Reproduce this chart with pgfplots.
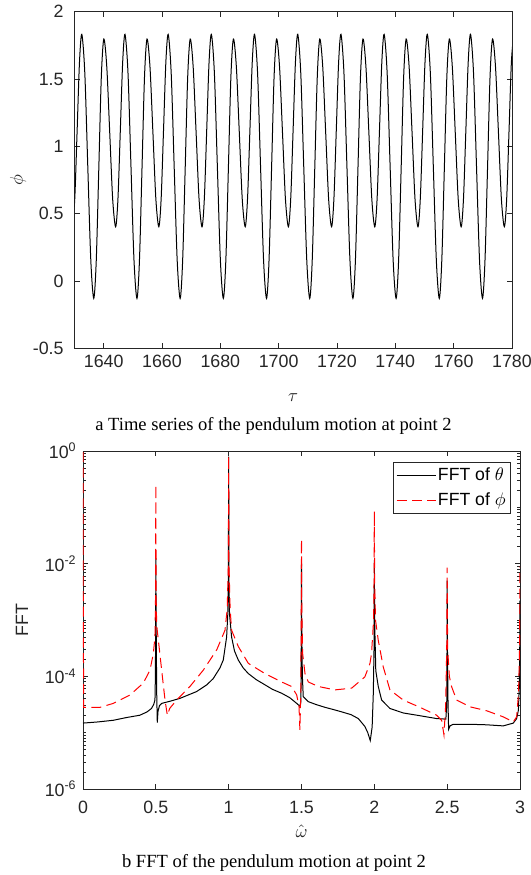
\documentclass[border=0pt]{standalone}
\usepackage{pgfplots}
\pgfplotsset{compat=1.18}
\usepackage{fontspec}
\setmainfont{Liberation Sans}
\newfontfamily\timesfont{Liberation Serif}
\pgfplotsset{
  matlab/.style={
    scale only axis,
    axis line style={black!85, line width=0.5pt},
    every tick/.style={black!85, line width=0.5pt},
    tick align=inside,
    major tick length=2.75pt, minor tick length=1.5pt,
    xtick pos=both, ytick pos=both,
    xticklabel pos=lower, yticklabel pos=left,
    ticklabel style={font=\fontsize{9.8}{11}\selectfont, text=black!85},
    label style={font=\fontsize{9.8}{11}\selectfont, text=black!85},
    /pgf/number format/assume math mode=true,
  }
}
\begin{document}
\begin{tikzpicture}
\path[use as bounding box] (0pt,0pt) rectangle (291.5pt,-481.25pt);
% ---------------- top: time series ----------------
\begin{axis}[matlab,
  at={(40.98pt,-191.57pt)}, anchor=south west,
  width=240.6pt, height=185.13pt,
  xmin=1630, xmax=1780, ymin=-0.5, ymax=2,
  xtick={1640,1660,1680,1700,1720,1740,1760,1780},
  xticklabels={1640,1660,1680,1700,1720,1740,1760,1780},
  ytick={-0.5,0,0.5,1,1.5,2},
  yticklabels={-0.5,0,0.5,1,1.5,2},
  yticklabel style={xshift=-2.5pt},
  xlabel={$\tau$}, ylabel={$\phi$},
  xlabel style={at={(axis description cs:0.5,-0.147)}, anchor=center},
  ylabel style={at={(axis description cs:-0.129,0.5)}, anchor=center},
]
\addplot[black, line width=0.55pt, smooth] table[row sep=\\] {
t phi\\
1629.29 0.403\\ 1630.09 0.612\\ 1630.90 1.118\\ 1631.70 1.623\\
1632.50 1.832\\ 1633.53 1.545\\ 1634.55 0.852\\ 1635.58 0.158\\ 1636.60 -0.129\\ 1637.46 0.153\\ 1638.33 0.834\\ 1639.19 1.515\\
1640.05 1.797\\ 1641.06 1.593\\ 1642.08 1.100\\ 1643.09 0.607\\ 1644.10 0.403\\ 1644.90 0.612\\ 1645.71 1.118\\ 1646.51 1.623\\
1647.31 1.832\\ 1648.34 1.545\\ 1649.36 0.852\\ 1650.39 0.158\\ 1651.41 -0.129\\ 1652.27 0.153\\ 1653.14 0.834\\ 1654.00 1.515\\
1654.86 1.797\\ 1655.87 1.593\\ 1656.89 1.100\\ 1657.90 0.607\\ 1658.91 0.403\\ 1659.71 0.612\\ 1660.52 1.118\\ 1661.32 1.623\\
1662.12 1.832\\ 1663.15 1.545\\ 1664.17 0.852\\ 1665.20 0.158\\ 1666.22 -0.129\\ 1667.08 0.153\\ 1667.95 0.834\\ 1668.81 1.515\\
1669.67 1.797\\ 1670.68 1.593\\ 1671.70 1.100\\ 1672.71 0.607\\ 1673.72 0.403\\ 1674.52 0.612\\ 1675.33 1.118\\ 1676.13 1.623\\
1676.93 1.832\\ 1677.96 1.545\\ 1678.98 0.852\\ 1680.01 0.158\\ 1681.03 -0.129\\ 1681.89 0.153\\ 1682.76 0.834\\ 1683.62 1.515\\
1684.48 1.797\\ 1685.49 1.593\\ 1686.51 1.100\\ 1687.52 0.607\\ 1688.53 0.403\\ 1689.33 0.612\\ 1690.14 1.118\\ 1690.94 1.623\\
1691.74 1.832\\ 1692.77 1.545\\ 1693.79 0.852\\ 1694.82 0.158\\ 1695.84 -0.129\\ 1696.70 0.153\\ 1697.57 0.834\\ 1698.43 1.515\\
1699.29 1.797\\ 1700.30 1.593\\ 1701.32 1.100\\ 1702.33 0.607\\ 1703.34 0.403\\ 1704.14 0.612\\ 1704.95 1.118\\ 1705.75 1.623\\
1706.55 1.832\\ 1707.58 1.545\\ 1708.60 0.852\\ 1709.63 0.158\\ 1710.65 -0.129\\ 1711.51 0.153\\ 1712.38 0.834\\ 1713.24 1.515\\
1714.10 1.797\\ 1715.11 1.593\\ 1716.13 1.100\\ 1717.14 0.607\\ 1718.15 0.403\\ 1718.95 0.612\\ 1719.76 1.118\\ 1720.56 1.623\\
1721.36 1.832\\ 1722.39 1.545\\ 1723.41 0.852\\ 1724.44 0.158\\ 1725.46 -0.129\\ 1726.32 0.153\\ 1727.19 0.834\\ 1728.05 1.515\\
1728.91 1.797\\ 1729.92 1.593\\ 1730.94 1.100\\ 1731.95 0.607\\ 1732.96 0.403\\ 1733.76 0.612\\ 1734.57 1.118\\ 1735.37 1.623\\
1736.17 1.832\\ 1737.20 1.545\\ 1738.22 0.852\\ 1739.25 0.158\\ 1740.27 -0.129\\ 1741.13 0.153\\ 1742.00 0.834\\ 1742.86 1.515\\
1743.72 1.797\\ 1744.73 1.593\\ 1745.75 1.100\\ 1746.76 0.607\\ 1747.77 0.403\\ 1748.57 0.612\\ 1749.38 1.118\\ 1750.18 1.623\\
1750.98 1.832\\ 1752.01 1.545\\ 1753.03 0.852\\ 1754.06 0.158\\ 1755.08 -0.129\\ 1755.94 0.153\\ 1756.81 0.834\\ 1757.67 1.515\\
1758.53 1.797\\ 1759.54 1.593\\ 1760.56 1.100\\ 1761.57 0.607\\ 1762.58 0.403\\ 1763.38 0.612\\ 1764.19 1.118\\ 1764.99 1.623\\
1765.79 1.832\\ 1766.82 1.545\\ 1767.84 0.852\\ 1768.87 0.158\\ 1769.89 -0.129\\ 1770.75 0.153\\ 1771.62 0.834\\ 1772.48 1.515\\
1773.34 1.797\\ 1774.35 1.593\\ 1775.37 1.100\\ 1776.38 0.607\\ 1777.39 0.403\\ 1778.19 0.612\\ 1779.00 1.118\\ 1779.80 1.623\\
1780.60 1.832\\
};
\end{axis}
\node[font=\timesfont\fontsize{10.2}{12}\selectfont, text=black] at (150.4pt,-234.0pt) {a Time series of the pendulum motion at point 2};
% ---------------- bottom: FFT ----------------
\begin{axis}[matlab,
  at={(45.65pt,-433.95pt)}, anchor=south west,
  width=240.35pt, height=185.9pt,
  ymode=log,
  xmin=0, xmax=3, ymin=1e-6, ymax=1,
  xtick={0,0.5,1,1.5,2,2.5,3},
  xticklabels={0,0.5,1,1.5,2,2.5,3},
  xticklabel style={yshift=-3pt},
  ytick={1e-6,1e-4,1e-2,1},
  yticklabels={{10\textsuperscript{-6}},{10\textsuperscript{-4}},{10\textsuperscript{-2}},{10\textsuperscript{0}}},
  minor ytick={2e-6,3e-6,4e-6,5e-6,6e-6,7e-6,8e-6,9e-6,1e-5,2e-5,3e-5,4e-5,5e-5,6e-5,7e-5,8e-5,9e-5,
    2e-4,3e-4,4e-4,5e-4,6e-4,7e-4,8e-4,9e-4,1e-3,2e-3,3e-3,4e-3,5e-3,6e-3,7e-3,8e-3,9e-3,
    2e-2,3e-2,4e-2,5e-2,6e-2,7e-2,8e-2,9e-2,1e-1,2e-1,3e-1,4e-1,5e-1,6e-1,7e-1,8e-1,9e-1},
  xlabel={$\hat{\omega}$}, ylabel={FFT},
  xlabel style={at={(axis description cs:0.5,-0.124)}, anchor=center},
  ylabel style={at={(axis description cs:-0.1396,0.5)}, anchor=center},
  legend style={at={(0.979,0.966)}, anchor=north east, draw=black!85, fill=white,
    line width=0.5pt, font=\fontsize{9.7}{11}\selectfont, inner xsep=1.6pt, inner ysep=0.5pt,
    nodes={inner xsep=1pt, inner ysep=2.4pt}},
  legend cell align=left,
  legend image code/.code={\draw[#1] (0pt,0pt) -- (21.5pt,0pt);},
]
\addplot[black, line width=0.55pt] table[row sep=\\] {
w a\\
0 1.48e-5\\ 0.1 1.55e-5\\ 0.208 1.66e-5\\ 0.3 1.86e-5\\ 0.39 2.04e-5\\ 0.44 2.34e-5\\ 0.47 2.69e-5\\
0.485 3.16e-5\\ 0.494 3.80e-5\\ 0.497 1e-4\\ 0.499 1e-3\\ 0.5 1.26e-2\\ 0.502 1e-3\\ 0.506 5.01e-5\\
0.51 1.51e-5\\ 0.515 2.40e-5\\ 0.525 3.02e-5\\ 0.54 3.31e-5\\ 0.6 3.63e-5\\ 0.666 4.07e-5\\ 0.78 5.37e-5\\
0.85 7.08e-5\\ 0.894 9.12e-5\\ 0.94 1.41e-4\\ 0.963 1.95e-4\\ 0.986 5.01e-4\\ 0.994 1.26e-3\\ 0.998 5.01e-3\\
1.0 0.794\\ 1.002 5.01e-3\\ 1.006 1.26e-3\\ 1.02 5.01e-4\\ 1.04 2.82e-4\\ 1.066 1.95e-4\\ 1.1 1.41e-4\\
1.135 1.12e-4\\ 1.19 8.71e-5\\ 1.249 7.08e-5\\ 1.3 5.89e-5\\ 1.364 5.01e-5\\ 1.42 4.17e-5\\ 1.467 3.31e-5\\
1.489 2.95e-5\\ 1.496 3.55e-5\\ 1.499 6.31e-4\\ 1.5 1e-2\\ 1.502 6.31e-4\\ 1.506 1e-4\\ 1.512 4.37e-5\\
1.547 3.55e-5\\ 1.6 3.16e-5\\ 1.661 2.82e-5\\ 1.72 2.57e-5\\ 1.776 2.34e-5\\ 1.84 2.09e-5\\ 1.89 1.78e-5\\
1.935 1.29e-5\\ 1.955 1.0e-5\\ 1.972 7.24e-6\\ 1.985 1.26e-5\\ 1.993 5.01e-5\\ 1.998 3.16e-4\\ 2.0 1.17e-2\\
2.002 1e-3\\ 2.01 1.26e-4\\ 2.027 6.61e-5\\ 2.05 3.80e-5\\ 2.107 2.69e-5\\ 2.198 2.24e-5\\ 2.313 2.0e-5\\
2.428 1.78e-5\\ 2.491 1.74e-5\\ 2.497 3.16e-5\\ 2.499 3.16e-4\\ 2.5 5.01e-3\\ 2.502 3.16e-4\\ 2.506 3.16e-5\\
2.51 1.15e-5\\ 2.52 1.32e-5\\ 2.541 1.41e-5\\ 2.656 1.41e-5\\ 2.771 1.38e-5\\ 2.885 1.32e-5\\ 2.954 1.48e-5\\
2.977 1.78e-5\\ 2.989 2.51e-5\\ 2.995 6.31e-5\\ 2.998 2.51e-4\\ 3.0 2.24e-3\\
};
\addlegendentry{FFT of $\theta$}
\addplot[red, line width=0.55pt, dash pattern=on 5.5pt off 3pt] table[row sep=\\] {
w a\\
0 0.955\\ 0.002 1e-3\\ 0.005 2.82e-5\\ 0.117 2.82e-5\\ 0.208 3.31e-5\\ 0.323 4.68e-5\\ 0.414 7.59e-5\\
0.46 1.29e-4\\ 0.483 2.57e-4\\ 0.494 5.01e-4\\ 0.498 2.51e-3\\ 0.5 0.251\\ 0.502 2.51e-3\\ 0.506 7.94e-4\\
0.517 4.47e-4\\ 0.54 1.29e-4\\ 0.563 3.80e-5\\ 0.579 2.04e-5\\ 0.595 2.69e-5\\ 0.643 3.80e-5\\ 0.734 6.61e-5\\
0.826 1.29e-4\\ 0.918 2.95e-4\\ 0.975 6.61e-4\\ 0.99 1.58e-3\\ 0.998 1e-2\\ 1.0 0.832\\ 1.002 1e-2\\
1.01 1.58e-3\\ 1.02 6.61e-4\\ 1.066 3.39e-4\\ 1.135 1.70e-4\\ 1.249 1.12e-4\\ 1.364 7.94e-5\\ 1.432 6.61e-5\\
1.467 4.68e-5\\ 1.483 2.88e-5\\ 1.489 1.12e-5\\ 1.495 5.01e-5\\ 1.498 1e-3\\ 1.5 2.69e-2\\ 1.502 1.58e-3\\
1.508 2.51e-4\\ 1.524 1.12e-4\\ 1.547 7.94e-5\\ 1.615 6.61e-5\\ 1.73 5.75e-5\\ 1.844 6.17e-5\\ 1.935 9.77e-5\\
1.97 1.70e-4\\ 1.981 2.57e-4\\ 1.995 1e-3\\ 1.998 5.01e-3\\ 2.0 8.51e-2\\ 2.002 5.01e-3\\ 2.008 1e-3\\
2.027 4.37e-4\\ 2.061 1.48e-4\\ 2.107 5.75e-5\\ 2.198 3.80e-5\\ 2.313 2.82e-5\\ 2.428 2.04e-5\\ 2.462 1.66e-5\\
2.478 9.12e-6\\ 2.49 3.16e-5\\ 2.497 3.16e-4\\ 2.5 8.51e-3\\ 2.503 3.16e-4\\ 2.515 1e-4\\ 2.53 6.61e-5\\
2.565 3.80e-5\\ 2.656 2.88e-5\\ 2.771 2.45e-5\\ 2.885 1.91e-5\\ 2.954 1.55e-5\\ 2.977 1.91e-5\\ 2.99 5.01e-5\\
2.997 3.16e-4\\ 3.0 8.91e-3\\
};
\addlegendentry{FFT of $\phi$}
\end{axis}
\node[font=\timesfont\fontsize{10.2}{12}\selectfont, text=black] at (150.7pt,-474.6pt) {b FFT of the pendulum motion at point 2};
\end{tikzpicture}
\end{document}
